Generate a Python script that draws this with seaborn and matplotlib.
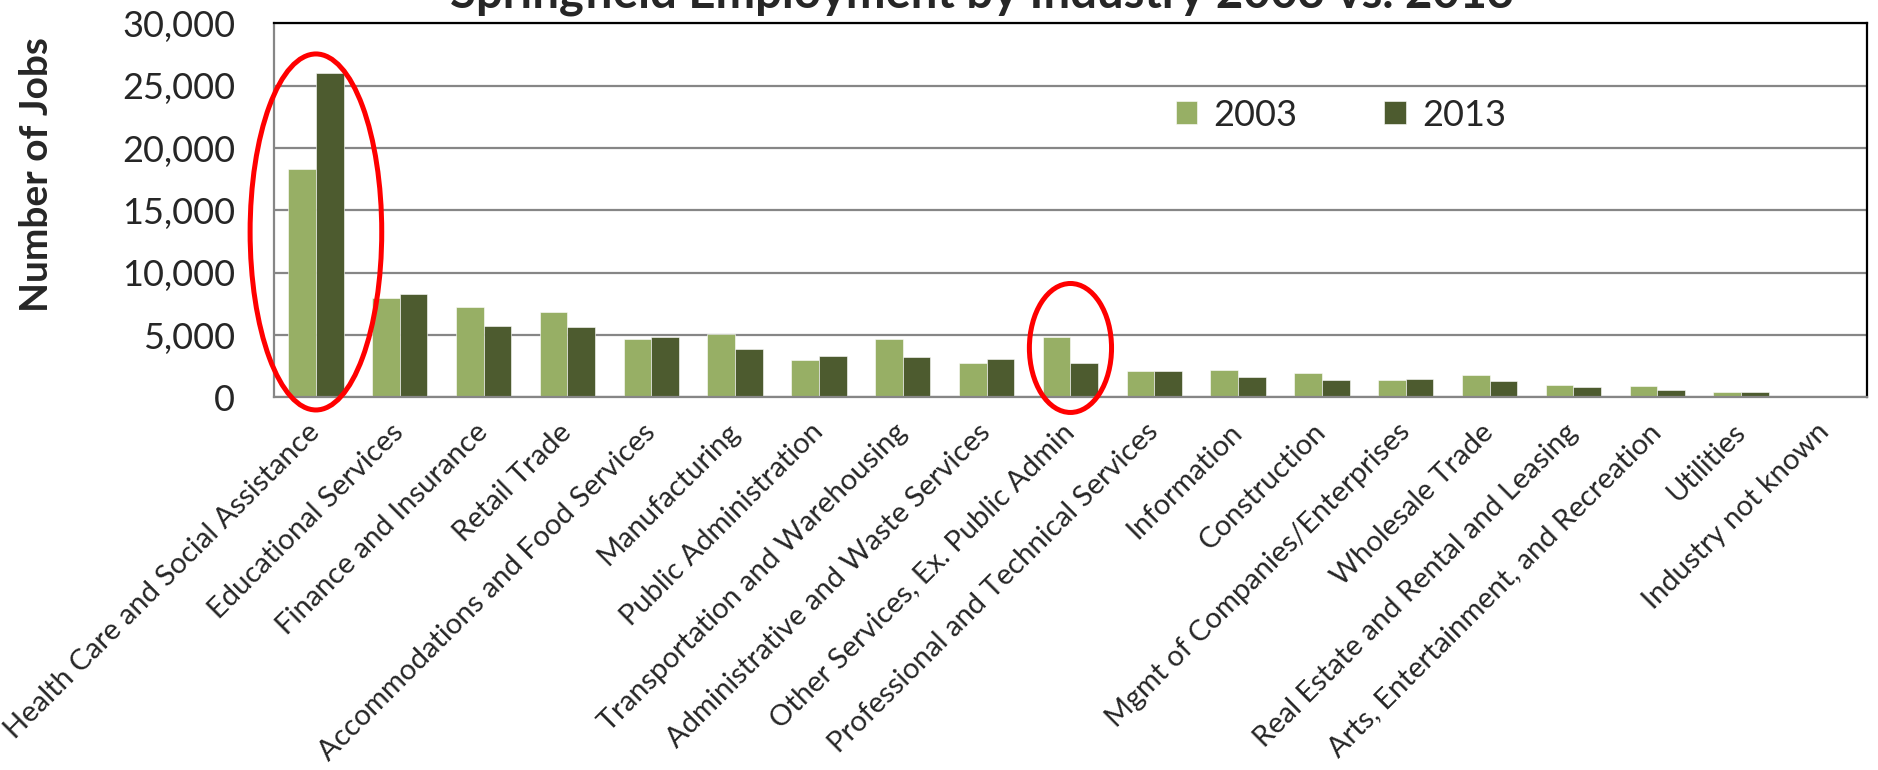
import pandas as pd
import seaborn as sns
import matplotlib.pyplot as plt
from matplotlib.patches import Ellipse

industries = [
    "Health Care and Social Assistance",
    "Educational Services",
    "Finance and Insurance",
    "Retail Trade",
    "Accommodations and Food Services",
    "Manufacturing",
    "Public Administration",
    "Transportation and Warehousing",
    "Administrative and Waste Services",
    "Other Services, Ex. Public Admin",
    "Professional and Technical Services",
    "Information",
    "Construction",
    "Mgmt of Companies/Enterprises",
    "Wholesale Trade",
    "Real Estate and Rental and Leasing",
    "Arts, Entertainment, and Recreation",
    "Utilities",
    "Industry not known",
]
jobs_2003 = [18300, 7950, 7220, 6870, 4680, 5080, 2990, 4680, 2780, 4810,
             2090, 2220, 1930, 1360, 1790, 990, 880, 400, 0]
jobs_2013 = [26000, 8320, 5750, 5640, 4840, 3880, 3290, 3210, 3050, 2730,
             2090, 1610, 1430, 1440, 1280, 800, 590, 390, 0]
years = ["2003", "2013"]
y_ticks = [0, 5000, 10000, 15000, 20000, 25000, 30000]

df = pd.DataFrame({
    "Industry": industries * 2,
    "Jobs": jobs_2003 + jobs_2013,
    "Year": [years[0]] * len(industries) + [years[1]] * len(industries),
})

sns.set_theme(style="white")
plt.rcParams["font.family"] = ["Lato", "DejaVu Sans"]

fig = plt.figure(figsize=(18.78, 7.70), dpi=100)
ax = fig.add_axes([0.1459, 0.484, 0.8482, 0.4855])

sns.barplot(data=df, x="Industry", y="Jobs", hue="Year",
            palette=["#9BBB59", "#4F6228"], width=0.66, gap=0,
            edgecolor="white", linewidth=0.4, ax=ax)

ax.set_xlim(-0.5, len(industries) - 0.5)
ax.set_ylim(0, 30000)
ax.set_yticks(y_ticks)
ax.set_yticklabels([f"{v:,}" for v in y_ticks], fontsize=26)
ax.yaxis.grid(True, color="#868686", linewidth=1.6)
ax.set_axisbelow(True)
ax.tick_params(axis="y", length=0, pad=28)
ax.tick_params(axis="x", length=0, pad=22)
ax.set_xticks(range(len(industries)))
ax.set_xticklabels(industries, rotation=45, ha="right", va="center",
                   rotation_mode="anchor", fontsize=21)
ax.set_xlabel("")
ax.set_ylabel("Number of Jobs", fontsize=28, fontweight="bold")
ax.yaxis.set_label_coords(-0.138, 0.597)

for side in ["left", "bottom"]:
    ax.spines[side].set_color("#868686")
    ax.spines[side].set_linewidth(1.6)
for side in ["top", "right"]:
    ax.spines[side].set_color("black")
    ax.spines[side].set_linewidth(1.6)

ax.legend(title=None, ncol=2, frameon=False, fontsize=26,
          loc="center left", bbox_to_anchor=(0.566, 0.755),
          borderpad=0, borderaxespad=0, handlelength=0.6, handleheight=0.6,
          handletextpad=0.45, columnspacing=2.4)

# red highlight rings
for cx, cy, w, h in [(0, 13270, 1.57, 28570), (9, 3960, 0.98, 10350)]:
    ax.add_patch(Ellipse((cx, cy), w, h, fill=False, edgecolor="red",
                         linewidth=3.6, clip_on=False, zorder=5))

fig.text(0.523, 0.990, "Springfield Employment by Industry 2003 vs. 2013",
         ha="center", va="baseline", fontsize=34, fontweight="bold")

fig.savefig("out.png", dpi=100)
